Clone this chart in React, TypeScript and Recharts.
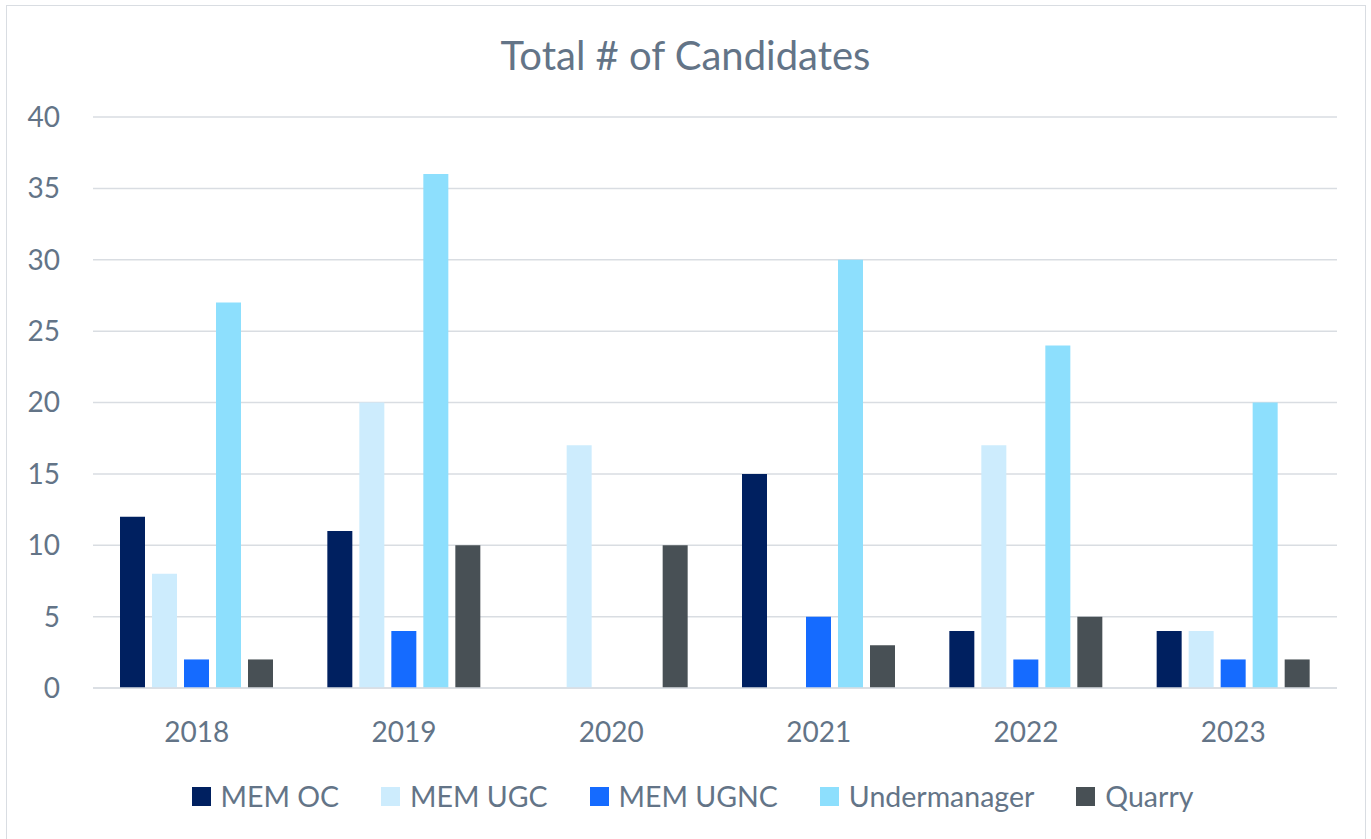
import React from "react";
import { BarChart, Bar, XAxis, YAxis, CartesianGrid, Legend } from "recharts";

const years = ["2018", "2019", "2020", "2021", "2022", "2023"];
const memOC = [12, 11, 0, 15, 4, 4];
const memUGC = [8, 20, 17, 0, 17, 4];
const memUGNC = [2, 4, 0, 5, 2, 2];
const undermanager = [27, 36, 0, 30, 24, 20];
const quarry = [2, 10, 10, 3, 5, 2];
const yTicks = [0, 5, 10, 15, 20, 25, 30, 35, 40];

const seriesDefs = [
  { key: "memOC", name: "MEM OC", color: "#002060" },
  { key: "memUGC", name: "MEM UGC", color: "#CDECFD" },
  { key: "memUGNC", name: "MEM UGNC", color: "#156BFF" },
  { key: "undermanager", name: "Undermanager", color: "#8DDFFD" },
  { key: "quarry", name: "Quarry", color: "#485055" },
];

const data = years.map((y, i) => ({
  year: y,
  memOC: memOC[i],
  memUGC: memUGC[i],
  memUGNC: memUGNC[i],
  undermanager: undermanager[i],
  quarry: quarry[i],
}));

const TEXT = "#637487";
const FONT = "Lato, 'Noto Sans', sans-serif";

const LegendContent = () => (
  <div
    style={{
      display: "flex",
      justifyContent: "center",
      alignItems: "center",
      height: 70,
      paddingBottom: 16,
      paddingLeft: 48,
      boxSizing: "border-box",
      fontFamily: FONT,
      fontSize: 28.5,
      color: TEXT,
    }}
  >
    {seriesDefs.map((s) => (
      <div key={s.key} style={{ display: "flex", alignItems: "center", margin: "0 21px" }}>
        <span style={{ display: "inline-block", width: 19, height: 19, background: s.color, marginRight: 10 }} />
        <span>{s.name}</span>
      </div>
    ))}
  </div>
);

export default function App() {
  return (
    <div style={{ position: "absolute", left: 0, top: 0, width: 1371, height: 839, background: "#fff" }}>
      <div
        style={{
          position: "absolute",
          left: 6,
          top: 5,
          width: 1360,
          height: 840,
          border: "1.5px solid #d9dde2",
          boxSizing: "border-box",
        }}
      />
      <div
        style={{
          position: "absolute",
          left: 0,
          width: 1371,
          top: 31,
          textAlign: "center",
          fontFamily: FONT,
          fontSize: 40,
          color: TEXT,
        }}
      >
        Total # of Candidates
      </div>
      <div style={{ position: "absolute", left: 0, top: 0 }}>
        <BarChart
          width={1371}
          height={839}
          data={data}
          margin={{ top: 117, right: 34, left: 0, bottom: 0 }}
          barSize={25}
          barGap={7}
        >
          <CartesianGrid vertical={false} stroke="#d9dde2" strokeWidth={1.5} />
          <XAxis
            dataKey="year"
            height={81}
            tickSize={0}
            tickMargin={34}
            axisLine={{ stroke: "#d9dde2", strokeWidth: 1.5 }}
            tickLine={false}
            tick={{ fill: TEXT, fontSize: 28, fontFamily: FONT }}
          />
          <YAxis
            width={93}
            domain={[0, 40]}
            ticks={yTicks}
            tickSize={0}
            tickMargin={33}
            axisLine={false}
            tickLine={false}
            tick={{ fill: TEXT, fontSize: 28, fontFamily: FONT }}
          />
          <Legend verticalAlign="bottom" content={<LegendContent />} />
          {seriesDefs.map((s) => (
            <Bar key={s.key} dataKey={s.key} name={s.name} fill={s.color} isAnimationActive={false} />
          ))}
        </BarChart>
      </div>
    </div>
  );
}
